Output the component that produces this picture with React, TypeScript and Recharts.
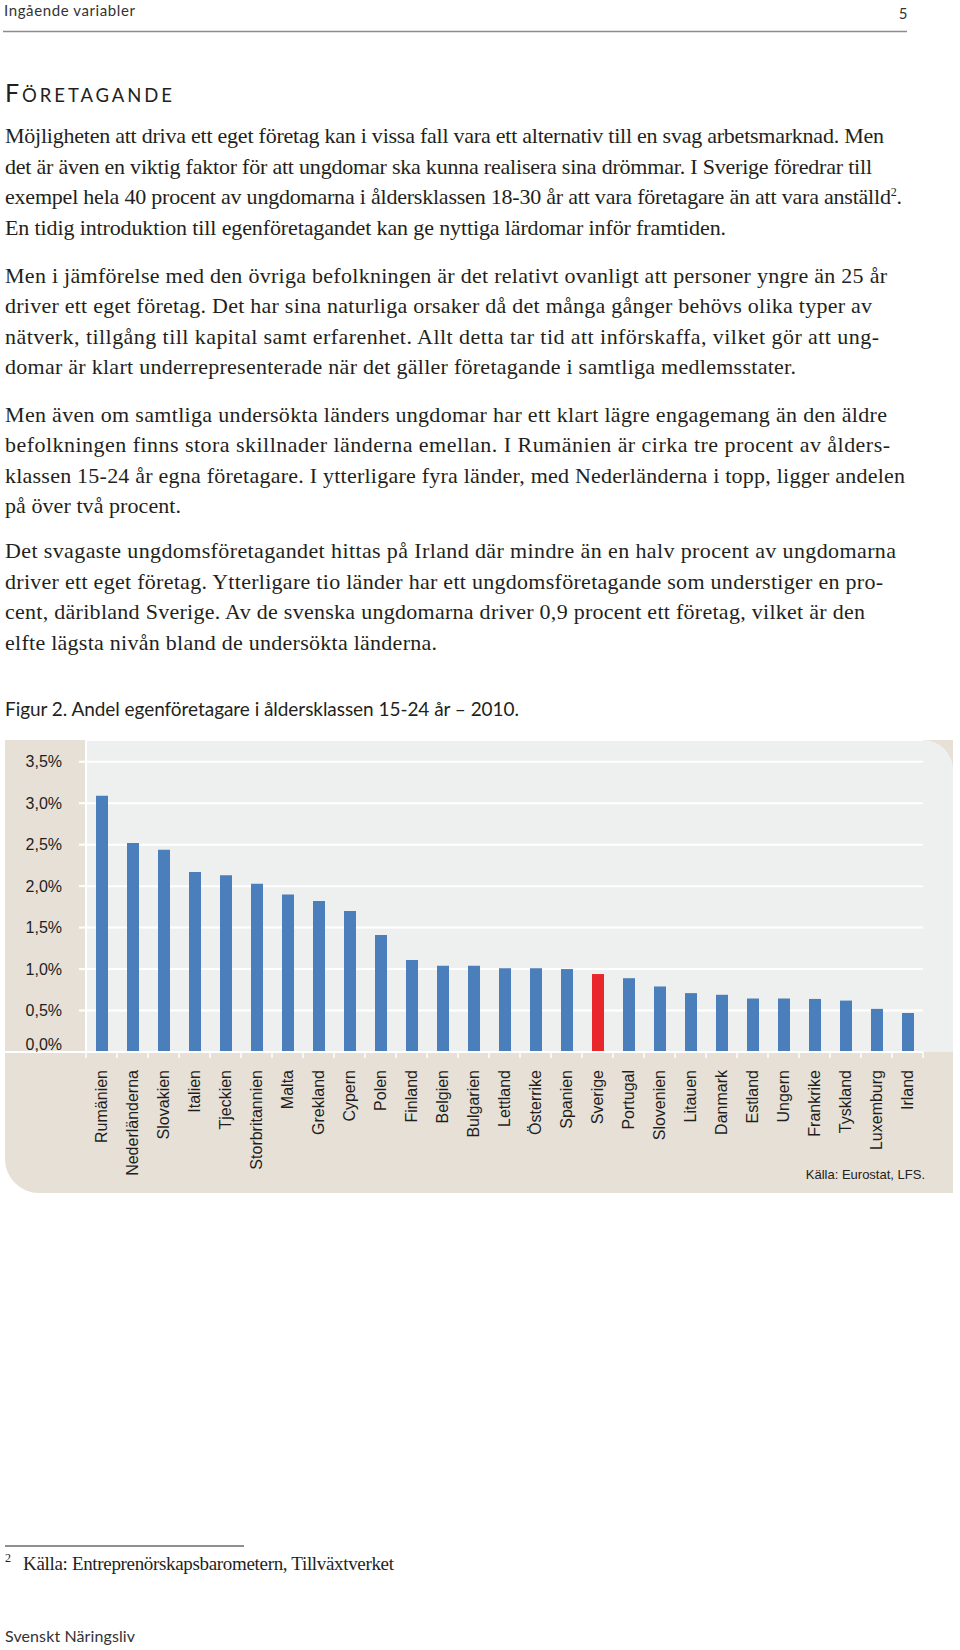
import React from "react";
import { BarChart, Bar, Cell, XAxis, YAxis, CartesianGrid } from "recharts";

// Andel egenföretagare 15-24 år, 2010 (procent)
const countries = [
  "Rumänien", "Nederländerna", "Slovakien", "Italien", "Tjeckien",
  "Storbritannien", "Malta", "Grekland", "Cypern", "Polen",
  "Finland", "Belgien", "Bulgarien", "Lettland", "Österrike",
  "Spanien", "Sverige", "Portugal", "Slovenien", "Litauen",
  "Danmark", "Estland", "Ungern", "Frankrike", "Tyskland",
  "Luxemburg", "Irland",
];
const shares = [
  3.09, 2.52, 2.44, 2.17, 2.13,
  2.03, 1.9, 1.82, 1.7, 1.41,
  1.11, 1.04, 1.04, 1.01, 1.01,
  1.0, 0.94, 0.89, 0.79, 0.71,
  0.69, 0.645, 0.645, 0.64, 0.62,
  0.52, 0.47,
];
const yTicks = [0, 0.5, 1, 1.5, 2, 2.5, 3, 3.5];
const highlight = "Sverige";

const data = countries.map((c, i) => ({ country: c, value: shares[i] }));

const para1 = [
  "Möjligheten att driva ett eget företag kan i vissa fall vara ett alternativ till en svag arbetsmarknad. Men",
  "det är även en viktig faktor för att ungdomar ska kunna realisera sina drömmar. I Sverige föredrar till",
  "exempel hela 40 procent av ungdomarna i åldersklassen 18-30 år att vara företagare än att vara anställd",
  "En tidig introduktion till egenföretagandet kan ge nyttiga lärdomar inför framtiden.",
];
const para2 = [
  "Men i jämförelse med den övriga befolkningen är det relativt ovanligt att personer yngre än 25 år",
  "driver ett eget företag. Det har sina naturliga orsaker då det många gånger behövs olika typer av",
  "nätverk, tillgång till kapital samt erfarenhet. Allt detta tar tid att införskaffa, vilket gör att ung-",
  "domar är klart underrepresenterade när det gäller företagande i samtliga medlemsstater.",
];
const para3 = [
  "Men även om samtliga undersökta länders ungdomar har ett klart lägre engagemang än den äldre",
  "befolkningen finns stora skillnader länderna emellan. I Rumänien är cirka tre procent av ålders-",
  "klassen 15-24 år egna företagare. I ytterligare fyra länder, med Nederländerna i topp, ligger andelen",
  "på över två procent.",
];
const para4 = [
  "Det svagaste ungdomsföretagandet hittas på Irland där mindre än en halv procent av ungdomarna",
  "driver ett eget företag. Ytterligare tio länder har ett ungdomsföretagande som understiger en pro-",
  "cent, däribland Sverige. Av de svenska ungdomarna driver 0,9 procent ett företag, vilket är den",
  "elfte lägsta nivån bland de undersökta länderna.",
];
const lineEnds = [
  [884, 872, 902, 726],
  [887, 872, 879, 796],
  [887, 890, 905, 181],
  [896, 883, 865, 437],
];
const paraTops = [143, 282.5, 421.5, 558];

const SERIF = "'Liberation Serif', 'Times New Roman', serif";
const SANS = "Lato, 'Open Sans', sans-serif";
const CHART_FONT = "'Liberation Sans', Arial, sans-serif";
const INK = "#231f20";

const CHART_W = 948;
const CHART_H = 453;
const Y_W = 81;
const RIGHT = 30;
const X_H = 141;
const halfBand = (CHART_W - Y_W - RIGHT) / countries.length / 2;

const fmt = (v: number) => v.toFixed(1).replace(".", ",") + "%";

const XTick = (props: any) => {
  const { x, y, payload, index } = props;
  const axisY = y - 18;
  return (
    <g>
      <line x1={x - halfBand} x2={x - halfBand} y1={axisY} y2={axisY + 6} stroke="#fff" strokeWidth={1.5} />
      {index === countries.length - 1 && (
        <line x1={x + halfBand} x2={x + halfBand} y1={axisY} y2={axisY + 6} stroke="#fff" strokeWidth={1.5} />
      )}
      <text
        transform={`translate(${x},${y}) rotate(-90)`}
        textAnchor="end"
        dy="0.36em"
        fontSize={16}
        fontFamily={CHART_FONT}
        fill="#1e1e1e"
      >
        {payload.value}
      </text>
    </g>
  );
};

const YTick = (props: any) => {
  const { x, y, payload } = props;
  return (
    <text
      x={x}
      y={y}
      dy={payload.value === 0 ? "-0.1em" : "0.35em"}
      textAnchor="end"
      fontSize={16}
      fontFamily={CHART_FONT}
      fill="#1e1e1e"
    >
      {fmt(payload.value)}
    </text>
  );
};

const Para = ({ lines, ends, top }: { lines: string[]; ends: number[]; top: number }) => (
  <>
    {lines.map((l, i) => (
      <text
        key={i}
        x={5}
        y={top + i * 30.5}
        textLength={ends[i] - 5}
        lengthAdjust="spacing"
        fontSize={22}
        fontFamily={SERIF}
        fill={INK}
      >
        {l}
        {top === paraTops[0] && i === 2 && (
          <>
            <tspan dy={-8} fontSize={12}>2</tspan>
            <tspan dy={8}>.</tspan>
          </>
        )}
      </text>
    ))}
  </>
);

export default function App() {
  return (
    <div style={{ position: "absolute", left: 0, top: 0, width: 960, height: 1650, background: "#fff", overflow: "hidden" }}>
      {/* chart frame */}
      <div style={{ position: "absolute", left: 5, top: 740, width: CHART_W, height: CHART_H, background: "#e6e0d6", borderBottomLeftRadius: 34 }} />
      <div style={{ position: "absolute", left: 5 + Y_W, top: 740, width: CHART_W - Y_W, height: CHART_H - X_H, background: "#eef0ef", borderTopRightRadius: 30 }} />
      <div style={{ position: "absolute", left: 5, top: 740 + CHART_H - X_H - 1, width: Y_W, height: 2, background: "#fff" }} />

      <div style={{ position: "absolute", left: 5, top: 740 }}>
        <BarChart
          width={CHART_W}
          height={CHART_H}
          data={data}
          margin={{ top: 0, right: RIGHT, left: 0, bottom: 0 }}
          barSize={12}
        >
          <CartesianGrid vertical={false} stroke="#fff" strokeWidth={2} />
          <XAxis
            dataKey="country"
            interval={0}
            height={X_H}
            tickSize={6}
            tickMargin={12}
            tickLine={false}
            axisLine={{ stroke: "#fff", strokeWidth: 2 }}
            tick={XTick}
          />
          <YAxis
            type="number"
            domain={[0, 3.762]}
            ticks={yTicks}
            allowDataOverflow
            width={Y_W}
            tickSize={7}
            tickMargin={17}
            tickLine={{ stroke: "#fff", strokeWidth: 2 }}
            axisLine={{ stroke: "#fff", strokeWidth: 2 }}
            tick={YTick}
          />
          <Bar dataKey="value" isAnimationActive={false}>
            {data.map((d) => (
              <Cell key={d.country} fill={d.country === highlight ? "#e8262b" : "#4a7fbb"} />
            ))}
          </Bar>
        </BarChart>
      </div>

      {/* page text */}
      <svg width={960} height={1650} style={{ position: "absolute", left: 0, top: 0, pointerEvents: "none" }}>
        <text x={4} y={16} textLength={131} lengthAdjust="spacing" fontSize={15} fontFamily={SANS} fill="#333">
          Ingående variabler
        </text>
        <text x={903} y={19} textAnchor="middle" fontSize={15} fontFamily={SANS} fill="#333">5</text>
        <line x1={3} x2={907} y1={31.5} y2={31.5} stroke="#8c8c8c" strokeWidth={1.5} />

        <text x={5} y={102} textLength={167} lengthAdjust="spacing" fontFamily={SANS} fill={INK}>
          <tspan fontSize={25}>F</tspan>
          <tspan fontSize={18.5}>ÖRETAGANDE</tspan>
        </text>

        <Para lines={para1} ends={lineEnds[0]} top={paraTops[0]} />
        <Para lines={para2} ends={lineEnds[1]} top={paraTops[1]} />
        <Para lines={para3} ends={lineEnds[2]} top={paraTops[2]} />
        <Para lines={para4} ends={lineEnds[3]} top={paraTops[3]} />

        <text x={5} y={716} textLength={514} lengthAdjust="spacing" fontSize={19} fontFamily={SANS} fill={INK}>
          Figur 2. Andel egenföretagare i åldersklassen 15-24 år – 2010.
        </text>

        <text x={925} y={1179} textAnchor="end" fontSize={13} fontFamily="'Liberation Sans Narrow', 'Liberation Sans', Arial, sans-serif" fill="#222">
          Källa: Eurostat, LFS.
        </text>

        <line x1={5} x2={244} y1={1546} y2={1546} stroke={INK} strokeWidth={1} />
        <text x={5} y={1562} fontSize={12} fontFamily={SERIF} fill={INK}>2</text>
        <text x={23} y={1570} textLength={371} lengthAdjust="spacing" fontSize={19} fontFamily={SERIF} fill={INK}>
          Källa: Entreprenörskapsbarometern, Tillväxtverket
        </text>

        <text x={5} y={1642} textLength={130} lengthAdjust="spacing" fontSize={16} fontFamily={SANS} fill="#333">
          Svenskt Näringsliv
        </text>
      </svg>
    </div>
  );
}
